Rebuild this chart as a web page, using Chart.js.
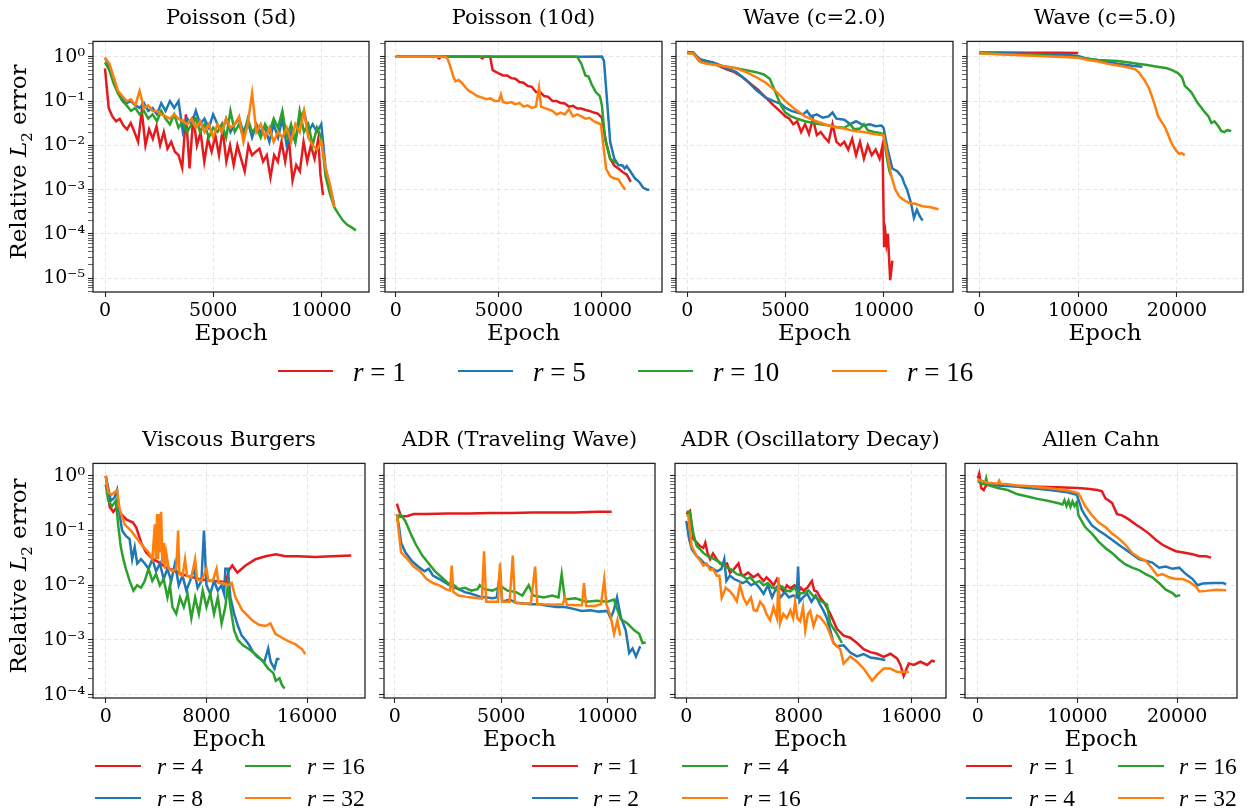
<!DOCTYPE html>
<html>
<head>
<meta charset="utf-8">
<script src="https://cdn.jsdelivr.net/npm/chart.js@4.4.1/dist/chart.umd.min.js"></script>
<style>
  body { margin: 0; background: #fff; width: 1248px; height: 809px; position: relative; overflow: hidden; font-family: 'DejaVu Serif', serif; color: #000; }
  canvas { position: absolute; }
  .txt { position: absolute; white-space: nowrap; transform: translate(-50%, -50%); line-height: 1; }
  .ylab { position: absolute; white-space: nowrap; transform: translate(-50%, -50%) rotate(-90deg); font-size: 23px; line-height: 1; }
  .ln { position: absolute; height: 2.6px; }
  .lt { position: absolute; white-space: nowrap; font-family: 'Liberation Serif', serif; transform: translateY(-50%); line-height: 1; }
</style>
</head>
<body>
<script>
// ---- data (epoch, relative L2 error) ----
const COLORS = ['#e41a1c', '#1f77b4', '#2ca02c', '#ff7f0e'];

const TOP_RANKS = [1, 5, 10, 16];
const BURGERS_RANKS = [4, 8, 16, 32];
const ADR_RANKS = [1, 2, 4, 16];
const ALLEN_RANKS = [1, 4, 16, 32];

const TOP_DECADES = [-5, -4, -3, -2, -1, 0];
const BOTTOM_DECADES = [-4, -3, -2, -1, 0];
const X_TICKS_5K = [0, 5000, 10000];
const X_TICKS_10K = [0, 10000, 20000];
const X_TICKS_8K = [0, 8000, 16000];

// Poisson (5d)
const P5D_R1 = [[0,0.55],[170,0.07],[340,0.045],[510,0.035],[680,0.04],[850,0.028],[1020,0.023],[1190,0.032],[1360,0.02],[1530,0.012],[1700,0.06],[1870,0.01],[2040,0.023],[2210,0.014],[2380,0.027],[2550,0.01],[2720,0.02],[2890,0.0084],[3060,0.012],[3230,0.0072],[3400,0.006],[3570,0.0031],[3740,0.05],[3910,0.003],[4080,0.045],[4250,0.01],[4420,0.02],[4590,0.0043],[4760,0.014],[4930,0.0072],[5100,0.017],[5270,0.006],[5440,0.023],[5610,0.0043],[5780,0.01],[5950,0.0036],[6120,0.01],[6290,0.005],[6460,0.0026],[6630,0.01],[6800,0.006],[6970,0.0072],[7140,0.0084],[7310,0.0043],[7480,0.006],[7650,0.0019],[7820,0.006],[7990,0.0043],[8160,0.012],[8330,0.0043],[8500,0.014],[8670,0.0016],[8840,0.0036],[9010,0.0026],[9180,0.012],[9350,0.0043],[9520,0.01],[9690,0.005],[9860,0.014],[9960,0.0022],[10080,0.00075]];
const P5D_R5 = [[0,0.95],[200,0.6],[400,0.3],[600,0.15],[800,0.11],[1000,0.09],[1200,0.1],[1400,0.08],[1600,0.07],[1800,0.09],[2000,0.06],[2200,0.07],[2400,0.05],[2600,0.09],[2800,0.06],[3000,0.1],[3200,0.07],[3400,0.1],[3600,0.02],[3800,0.04],[4000,0.03],[4200,0.06],[4400,0.03],[4600,0.04],[4800,0.025],[5000,0.05],[5200,0.03],[5400,0.02],[5600,0.04],[5800,0.02],[6000,0.03],[6200,0.04],[6400,0.02],[6600,0.035],[6800,0.015],[7000,0.03],[7200,0.02],[7400,0.025],[7600,0.012],[7800,0.03],[8000,0.015],[8200,0.04],[8400,0.01],[8600,0.02],[8800,0.012],[9000,0.04],[9200,0.06],[9400,0.02],[9600,0.03],[9800,0.02],[10000,0.03],[10200,0.003],[10400,0.0012],[10600,0.00045]];
const P5D_R10 = [[0,0.75],[200,0.5],[400,0.25],[600,0.15],[800,0.1],[1000,0.08],[1200,0.06],[1400,0.07],[1600,0.05],[1800,0.06],[2000,0.04],[2200,0.05],[2400,0.035],[2600,0.06],[2800,0.04],[3000,0.03],[3200,0.05],[3400,0.025],[3600,0.035],[3800,0.02],[4000,0.03],[4200,0.04],[4400,0.02],[4600,0.03],[4800,0.015],[5000,0.025],[5200,0.02],[5400,0.03],[5600,0.015],[5800,0.06],[6000,0.02],[6200,0.03],[6400,0.015],[6600,0.04],[6800,0.02],[7000,0.025],[7200,0.015],[7400,0.03],[7600,0.02],[7800,0.04],[8000,0.025],[8200,0.06],[8400,0.015],[8600,0.03],[8800,0.012],[9000,0.06],[9200,0.02],[9400,0.03],[9600,0.01],[9800,0.025],[10000,0.015],[10200,0.002],[10400,0.0008],[10600,0.0004],[10800,0.00028],[11000,0.0002],[11200,0.00016],[11400,0.00014],[11600,0.00012]];
const P5D_R16 = [[0,0.95],[200,0.7],[400,0.35],[600,0.17],[800,0.13],[1000,0.1],[1200,0.11],[1400,0.08],[1600,0.17],[1800,0.07],[2000,0.08],[2200,0.06],[2400,0.06],[2600,0.05],[2800,0.045],[3000,0.04],[3200,0.05],[3400,0.04],[3600,0.035],[3800,0.03],[4000,0.04],[4200,0.025],[4400,0.035],[4600,0.02],[4800,0.03],[5000,0.015],[5200,0.03],[5400,0.02],[5600,0.04],[5800,0.025],[6000,0.03],[6200,0.045],[6400,0.012],[6600,0.03],[6800,0.15],[7000,0.02],[7200,0.03],[7400,0.015],[7600,0.025],[7800,0.012],[8000,0.02],[8200,0.015],[8400,0.025],[8600,0.012],[8800,0.03],[9000,0.02],[9200,0.06],[9400,0.015],[9600,0.01],[9800,0.008],[10000,0.012],[10200,0.003],[10400,0.0013],[10600,0.0004]];

// Poisson (10d)
const P10D_R1 = [[0,1],[2000,1],[2100,0.92],[2200,1],[4100,1],[4200,0.92],[4300,1],[4580,1],[4700,0.5],[5000,0.42],[5200,0.38],[5400,0.38],[5600,0.33],[5800,0.32],[6000,0.27],[6200,0.26],[6400,0.22],[6600,0.21],[6800,0.16],[7000,0.16],[7200,0.13],[7400,0.125],[7600,0.1],[7800,0.1],[8000,0.09],[8200,0.088],[8400,0.075],[8600,0.078],[8800,0.068],[9000,0.068],[9200,0.063],[9400,0.06],[9600,0.055],[9800,0.052],[10000,0.042],[10200,0.012],[10400,0.005],[10600,0.0035],[10800,0.003],[11000,0.0025],[11200,0.0022],[11400,0.0015]];
const P10D_R5 = [[0,1],[3000,1],[6000,1],[9000,1],[10000,1.02],[10100,0.8],[10200,0.2],[10300,0.05],[10400,0.012],[10600,0.005],[10800,0.0036],[11000,0.0035],[11100,0.003],[11200,0.0034],[11400,0.0025],[11600,0.0018],[11800,0.0015],[12000,0.0011],[12200,0.001],[12300,0.001]];
const P10D_R10 = [[0,1],[4000,1],[8800,1],[9000,0.7],[9200,0.38],[9350,0.36],[9500,0.24],[9700,0.16],[9900,0.13],[10000,0.08],[10150,0.014],[10400,0.005],[10700,0.004]];
const P10D_R16 = [[0,1],[2300,1],[2500,0.95],[2650,0.6],[2800,0.35],[2900,0.28],[3050,0.3],[3200,0.26],[3400,0.2],[3550,0.17],[3750,0.15],[3950,0.13],[4200,0.12],[4400,0.11],[4600,0.115],[4800,0.1],[5000,0.1],[5100,0.14],[5200,0.095],[5400,0.09],[5600,0.095],[5800,0.085],[6000,0.09],[6200,0.075],[6400,0.08],[6600,0.07],[6800,0.075],[6950,0.2],[7050,0.075],[7200,0.07],[7400,0.065],[7600,0.06],[7800,0.05],[8000,0.055],[8200,0.05],[8400,0.065],[8600,0.045],[8800,0.05],[9000,0.045],[9200,0.04],[9400,0.042],[9600,0.035],[9800,0.032],[9950,0.03],[10050,0.012],[10200,0.003],[10400,0.002],[10600,0.0018],[10800,0.0017],[11000,0.0012],[11130,0.001]];

// Wave (c=2.0)
const W2_R1 = [[0,1.25],[300,1.25],[500,1.0],[700,0.85],[1000,0.8],[1300,0.75],[1600,0.62],[2000,0.52],[2400,0.45],[2800,0.35],[3200,0.25],[3600,0.18],[4000,0.12],[4400,0.08],[4800,0.055],[5000,0.045],[5200,0.04],[5400,0.03],[5600,0.035],[5800,0.02],[6000,0.03],[6200,0.018],[6400,0.04],[6600,0.017],[6800,0.02],[7000,0.015],[7200,0.012],[7400,0.03],[7600,0.012],[7800,0.01],[8000,0.012],[8200,0.008],[8400,0.014],[8600,0.006],[8800,0.012],[9000,0.005],[9200,0.01],[9400,0.006],[9600,0.008],[9800,0.005],[9950,0.01],[10030,0.00005],[10100,0.0001],[10150,0.00006],[10220,0.0001],[10340,0.000009],[10450,0.000025]];
const W2_R5 = [[0,1.25],[300,1.25],[600,0.9],[1000,0.8],[1500,0.7],[2000,0.55],[2500,0.45],[3000,0.3],[3500,0.18],[4000,0.12],[4400,0.1],[4800,0.085],[5000,0.07],[5300,0.06],[5600,0.055],[5900,0.05],[6100,0.06],[6300,0.045],[6600,0.05],[6900,0.042],[7200,0.045],[7400,0.055],[7600,0.04],[8000,0.038],[8300,0.03],[8600,0.035],[9000,0.028],[9300,0.03],[9600,0.027],[9900,0.028],[10000,0.025],[10200,0.0085],[10450,0.003],[10700,0.0026],[10950,0.0019],[11050,0.0014],[11200,0.001],[11400,0.0005],[11550,0.00023],[11700,0.00035],[11850,0.00025],[11990,0.0002]];
const W2_R10 = [[0,1.2],[300,1.2],[600,0.8],[1000,0.72],[1500,0.65],[2000,0.6],[2500,0.55],[3000,0.5],[3500,0.45],[3900,0.4],[4200,0.32],[4400,0.2],[4600,0.12],[4800,0.075],[5000,0.055],[5300,0.045],[5600,0.04],[6000,0.035],[6400,0.032],[6800,0.03],[7200,0.028],[7600,0.026],[8000,0.025],[8300,0.03],[8500,0.023],[8800,0.024],[9000,0.03],[9200,0.022],[9500,0.02],[9800,0.019],[10000,0.018],[10100,0.008],[10200,0.0045],[10300,0.0026],[10400,0.002]];
const W2_R16 = [[0,1.2],[300,1.2],[700,0.75],[1000,0.7],[1500,0.65],[2000,0.6],[2500,0.55],[3000,0.45],[3500,0.35],[4000,0.26],[4500,0.17],[5000,0.1],[5500,0.065],[6000,0.045],[6500,0.036],[7000,0.03],[7500,0.026],[8000,0.024],[8500,0.021],[9000,0.02],[9500,0.018],[10000,0.017],[10200,0.006],[10400,0.002],[10600,0.001],[10800,0.0007],[11000,0.0006],[11300,0.0005],[11600,0.00048],[12000,0.00042],[12400,0.0004],[12800,0.00036]];

// Wave (c=5.0)
const W5_R1 = [[0,1.25],[2000,1.25],[5000,1.24],[8000,1.23],[10000,1.22]];
const W5_R5 = [[0,1.22],[3000,1.2],[6000,1.15],[9000,1.1],[10000,1.05],[11000,0.9],[12500,0.8],[14000,0.7],[15500,0.63],[16500,0.6]];
const W5_R10 = [[0,1.2],[3000,1.15],[6000,1.08],[9000,1.0],[10000,0.97],[11000,0.9],[12000,0.85],[14000,0.8],[15000,0.75],[16000,0.7],[17000,0.65],[18000,0.6],[19000,0.55],[19500,0.5],[20100,0.43],[20500,0.35],[20800,0.22],[21450,0.16],[22100,0.09],[22500,0.07],[22800,0.057],[23200,0.045],[23500,0.032],[23800,0.035],[24200,0.027],[24500,0.021],[24800,0.02],[25100,0.022],[25500,0.021]];
const W5_R16 = [[0,1.2],[3000,1.12],[6000,1.05],[9000,0.98],[10000,0.95],[11000,0.85],[12000,0.78],[13000,0.7],[14000,0.64],[15000,0.58],[15800,0.52],[16200,0.43],[16700,0.3],[17200,0.19],[17700,0.09],[18100,0.045],[18400,0.035],[18750,0.027],[19000,0.02],[19400,0.012],[19700,0.009],[19900,0.0078],[20200,0.0065],[20500,0.0066],[20800,0.006]];

// Viscous Burgers
const VB_R4 = [[0,1.0],[150,0.6],[320,0.27],[600,0.22],[840,0.26],[1240,0.2],[1630,0.16],[2160,0.14],[2420,0.115],[2820,0.06],[3200,0.04],[3740,0.03],[4260,0.026],[4790,0.021],[5300,0.019],[6370,0.015],[7420,0.013],[8470,0.012],[9530,0.0115],[9790,0.019],[10050,0.023],[10450,0.017],[11100,0.023],[11900,0.03],[12700,0.034],[13500,0.037],[14260,0.034],[15300,0.034],[16630,0.033],[17950,0.034],[19500,0.035]];
const VB_R8 = [[0,1.0],[200,0.6],[400,0.35],[700,0.4],[900,0.55],[1100,0.2],[1300,0.1],[1600,0.08],[1900,0.07],[2100,0.03],[2300,0.05],[2500,0.025],[2800,0.03],[3100,0.025],[3400,0.02],[3700,0.03],[4000,0.018],[4300,0.025],[4600,0.013],[4900,0.02],[5200,0.012],[5500,0.025],[5800,0.01],[6100,0.015],[6400,0.008],[6700,0.012],[7000,0.02],[7300,0.009],[7600,0.012],[7800,0.1],[8000,0.01],[8300,0.007],[8600,0.012],[8900,0.008],[9200,0.01],[9400,0.007],[9500,0.02],[9700,0.02],[9900,0.006],[10200,0.003],[10500,0.0018],[10800,0.0012],[11100,0.001],[11400,0.0008],[11700,0.0006],[12000,0.0005],[12300,0.00045],[12600,0.0004],[12900,0.0007],[13100,0.0004],[13400,0.0003],[13600,0.00045],[13800,0.00045]];
const VB_R16 = [[0,0.7],[200,0.35],[500,0.28],[800,0.35],[1000,0.12],[1200,0.05],[1400,0.03],[1600,0.02],[1900,0.012],[2200,0.008],[2500,0.01],[2800,0.009],[3100,0.012],[3400,0.02],[3700,0.012],[4000,0.016],[4300,0.01],[4600,0.013],[4900,0.006],[5100,0.01],[5300,0.004],[5600,0.003],[5900,0.006],[6200,0.004],[6500,0.007],[6800,0.0025],[7100,0.006],[7400,0.003],[7700,0.008],[8000,0.004],[8300,0.007],[8600,0.003],[8900,0.006],[9200,0.002],[9500,0.004],[9700,0.01],[9900,0.004],[10200,0.0015],[10500,0.001],[10900,0.0008],[11300,0.0007],[11700,0.0006],[12100,0.0005],[12500,0.0004],[12900,0.0003],[13300,0.00025],[13500,0.00018],[13800,0.0002],[14000,0.00015],[14200,0.00013]];
const VB_R32 = [[0,1.0],[200,0.5],[450,0.45],[700,0.5],[900,0.55],[1100,0.25],[1500,0.13],[2000,0.1],[2500,0.07],[3000,0.05],[3400,0.04],[3700,0.03],[3900,0.13],[3980,0.03],[4080,0.2],[4150,0.03],[4250,0.2],[4330,0.04],[4400,0.22],[4500,0.025],[4600,0.06],[4700,0.02],[4800,0.04],[5000,0.02],[5300,0.018],[5600,0.02],[5750,0.1],[5850,0.016],[6100,0.015],[6300,0.03],[6450,0.015],[6800,0.014],[7100,0.03],[7250,0.013],[7600,0.012],[8000,0.02],[8150,0.012],[8500,0.012],[8800,0.02],[8950,0.011],[9300,0.011],[9700,0.01],[10000,0.011],[10300,0.006],[10840,0.0035],[11630,0.0023],[12160,0.0019],[12680,0.0018],[13080,0.002],[13470,0.0013],[14000,0.0011],[14530,0.00094],[15050,0.00084],[15580,0.00068],[15840,0.00055]];

// ADR (Traveling Wave)
const ADRTW_R1 = [[100,0.31],[300,0.18],[600,0.185],[900,0.2],[1500,0.2],[2500,0.205],[3500,0.205],[4500,0.21],[5500,0.21],[6500,0.215],[7500,0.215],[8500,0.215],[9500,0.22],[10200,0.22]];
const ADRTW_R2 = [[100,0.2],[200,0.12],[300,0.06],[500,0.04],[800,0.028],[1100,0.022],[1400,0.018],[1600,0.02],[1800,0.015],[2100,0.013],[2400,0.011],[2700,0.0095],[3000,0.0085],[3300,0.0075],[3600,0.007],[4000,0.0062],[4300,0.006],[4600,0.0058],[4800,0.006],[4950,0.017],[5050,0.005],[5400,0.0055],[5700,0.0048],[6000,0.0047],[6400,0.0045],[6800,0.0045],[7200,0.0042],[7600,0.004],[8000,0.004],[8400,0.0037],[8800,0.0034],[9200,0.0035],[9600,0.0033],[10000,0.0034],[10150,0.0025],[10300,0.0035],[10450,0.006],[10630,0.0026],[10860,0.0015],[11020,0.00058],[11180,0.0007],[11340,0.0005],[11540,0.00077]];
const ADRTW_R4 = [[100,0.15],[250,0.2],[500,0.15],[800,0.08],[1000,0.055],[1300,0.035],[1600,0.025],[1900,0.018],[2200,0.014],[2500,0.011],[2800,0.01],[3000,0.0085],[3300,0.009],[3600,0.008],[3900,0.0085],[4000,0.01],[4200,0.0085],[4600,0.008],[5000,0.0095],[5300,0.008],[5700,0.0075],[6000,0.0065],[6300,0.01],[6500,0.0065],[7000,0.006],[7400,0.0065],[7700,0.006],[7850,0.016],[8000,0.0055],[8500,0.0058],[9000,0.005],[9500,0.0052],[10000,0.005],[10300,0.0055],[10630,0.0024],[10940,0.002],[11260,0.0015],[11490,0.0013],[11650,0.00088],[11800,0.0009]];
const ADRTW_R16 = [[100,0.2],[200,0.09],[300,0.04],[600,0.03],[900,0.022],[1200,0.018],[1500,0.013],[1800,0.011],[2100,0.01],[2400,0.0085],[2600,0.008],[2680,0.023],[2760,0.0075],[3000,0.0065],[3300,0.0062],[3600,0.006],[3900,0.0058],[4100,0.0057],[4200,0.042],[4300,0.005],[4600,0.005],[4850,0.005],[4950,0.025],[5050,0.005],[5400,0.005],[5550,0.035],[5650,0.0048],[6000,0.0046],[6400,0.0047],[6600,0.022],[6700,0.0046],[7000,0.0045],[7500,0.0044],[7900,0.0045],[8000,0.006],[8100,0.0044],[8500,0.0043],[8800,0.0043],[8900,0.011],[9000,0.0042],[9400,0.0042],[9700,0.0045],[9850,0.013],[9950,0.0045],[10160,0.0026],[10310,0.0013],[10470,0.0023],[10600,0.0012]];

// ADR (Oscillatory Decay)
const ADROD_R1 = [[0,0.2],[260,0.23],[500,0.07],[750,0.06],[970,0.052],[1210,0.048],[1350,0.06],[1500,0.04],[1690,0.03],[1900,0.038],[2160,0.03],[2400,0.025],[2640,0.023],[2900,0.025],[3110,0.017],[3400,0.02],[3710,0.025],[3900,0.016],[4060,0.015],[4400,0.017],[4770,0.014],[5100,0.016],[5490,0.012],[5700,0.014],[5960,0.012],[6200,0.01],[6440,0.013],[6700,0.009],[6910,0.0077],[7150,0.01],[7390,0.0088],[7700,0.01],[7980,0.0077],[8150,0.009],[8340,0.008],[8600,0.009],[8930,0.012],[9100,0.008],[9290,0.0077],[9500,0.006],[9760,0.005],[10000,0.0039],[10240,0.003],[10710,0.0016],[11190,0.0012],[11660,0.0011],[12140,0.00088],[12610,0.00068],[13090,0.0006],[13560,0.00056],[14040,0.00049],[14510,0.00056],[14990,0.00046],[15230,0.00035],[15460,0.00022],[15820,0.00037],[16180,0.00035],[16650,0.0004],[17130,0.00035],[17480,0.00042],[17670,0.0004]];
const ADROD_R2 = [[0,0.15],[200,0.07],[400,0.045],[700,0.035],[1000,0.03],[1300,0.025],[1600,0.022],[1900,0.02],[2200,0.018],[2500,0.02],[2700,0.03],[2850,0.012],[3100,0.015],[3400,0.013],[3700,0.012],[4000,0.011],[4300,0.012],[4600,0.01],[4900,0.011],[5200,0.009],[5500,0.007],[5800,0.01],[6100,0.006],[6400,0.009],[6700,0.006],[7000,0.0075],[7300,0.006],[7600,0.0065],[7850,0.006],[7950,0.022],[8050,0.005],[8300,0.006],[8600,0.007],[8900,0.005],[9200,0.0065],[9500,0.0045],[9760,0.0034],[10000,0.0025],[10240,0.0015],[10470,0.00088],[10710,0.00077],[11190,0.0008],[11660,0.00059],[12140,0.0005],[12610,0.00055],[13090,0.00048],[13560,0.00046],[14150,0.00043]];
const ADROD_R4 = [[0,0.22],[250,0.22],[350,0.15],[500,0.088],[740,0.052],[1000,0.045],[1210,0.039],[1600,0.033],[2000,0.03],[2400,0.026],[2750,0.022],[3110,0.02],[3350,0.018],[3590,0.016],[4000,0.015],[4300,0.013],[4540,0.014],[4900,0.011],[5200,0.012],[5490,0.01],[5800,0.011],[6100,0.009],[6440,0.0088],[6800,0.0095],[7100,0.008],[7390,0.0077],[7700,0.009],[8000,0.007],[8340,0.0072],[8700,0.008],[9050,0.0063],[9400,0.0055],[9760,0.0048],[10000,0.0045],[10240,0.002],[10710,0.0013],[11070,0.00088]];
const ADROD_R16 = [[0,0.19],[140,0.19],[380,0.052],[740,0.034],[1000,0.028],[1210,0.023],[1450,0.025],[1690,0.019],[1900,0.02],[2160,0.015],[2350,0.015],[2520,0.0059],[2800,0.009],[3110,0.0077],[3350,0.0065],[3590,0.0051],[3820,0.01],[4050,0.006],[4300,0.0045],[4600,0.006],[4800,0.0035],[5010,0.0034],[5250,0.005],[5490,0.0042],[5700,0.003],[5960,0.0023],[6200,0.004],[6450,0.0025],[6560,0.014],[6670,0.002],[6900,0.003],[7150,0.0025],[7400,0.0035],[7600,0.0025],[7740,0.0051],[7900,0.0025],[8100,0.0022],[8300,0.004],[8460,0.0015],[8650,0.003],[8810,0.0034],[9050,0.0018],[9300,0.0028],[9520,0.0026],[9750,0.0022],[10000,0.0018],[10470,0.00088],[10950,0.00068],[11190,0.00037],[11660,0.0005],[12140,0.0004],[12610,0.0003],[13090,0.0002],[13210,0.00018],[13560,0.00023],[14040,0.0003],[14510,0.0003],[14990,0.00026],[15460,0.00026],[15820,0.00026]];

// Allen Cahn
const AC_R1 = [[0,0.9],[150,1.1],[350,0.6],[600,0.55],[800,0.65],[1000,0.72],[2000,0.68],[4000,0.65],[6000,0.63],[8000,0.62],[10000,0.6],[11000,0.58],[12000,0.55],[12460,0.52],[12800,0.39],[13470,0.32],[13970,0.2],[14480,0.19],[15150,0.16],[15820,0.13],[16500,0.108],[17170,0.088],[17850,0.068],[18520,0.055],[19190,0.048],[19870,0.042],[20880,0.039],[21550,0.037],[22220,0.034],[22900,0.034],[23400,0.032]];
const AC_R4 = [[0,0.85],[500,0.8],[1000,0.7],[2000,0.67],[3000,0.65],[4000,0.63],[5000,0.6],[6000,0.58],[7000,0.56],[8000,0.53],[9000,0.5],[9930,0.45],[10440,0.24],[10770,0.19],[11450,0.124],[12120,0.1],[12800,0.083],[13470,0.068],[14140,0.055],[14810,0.045],[15490,0.037],[16160,0.03],[16840,0.028],[17510,0.026],[18180,0.021],[18860,0.022],[19530,0.02],[20200,0.021],[20880,0.016],[21550,0.013],[22050,0.01],[22560,0.0108],[23570,0.011],[24580,0.011],[24920,0.0105]];
const AC_R16 = [[0,0.8],[400,0.72],[700,0.7],[850,0.9],[1000,0.68],[2000,0.6],[3000,0.55],[4000,0.46],[5000,0.42],[6000,0.38],[7000,0.35],[8000,0.32],[8500,0.3],[8700,0.36],[8900,0.28],[9100,0.35],[9300,0.27],[9500,0.34],[9700,0.28],[9930,0.33],[10100,0.19],[10770,0.116],[11450,0.088],[12120,0.063],[12800,0.048],[13470,0.039],[14140,0.03],[14810,0.024],[15490,0.021],[16160,0.019],[16840,0.016],[17510,0.014],[18180,0.011],[18860,0.0083],[19530,0.0072],[19870,0.0063],[20300,0.0066]];
const AC_R32 = [[0,0.85],[500,0.8],[1000,0.75],[2000,0.72],[2150,0.82],[2300,0.72],[3000,0.7],[4000,0.67],[5000,0.65],[6000,0.62],[7000,0.6],[8000,0.57],[9000,0.54],[9800,0.5],[10100,0.48],[10440,0.37],[10770,0.28],[11450,0.19],[12120,0.14],[12800,0.116],[13470,0.088],[14140,0.072],[14810,0.055],[15490,0.039],[16160,0.032],[16840,0.028],[17510,0.02],[18020,0.015],[18520,0.016],[19190,0.014],[19870,0.013],[20540,0.013],[21210,0.0116],[21890,0.0094],[22220,0.0077],[22900,0.0079],[23910,0.0083],[24920,0.0081]];

// ---- layout ----
const TOP_Y = [4.87e-6, 2.23];
const BOTTOM_Y = [8.7e-5, 1.69];

const panels = [
  { title: 'Poisson (5d)', box: [93, 32, 369, 292], xRange: [-555, 12206], xTicks: X_TICKS_5K, yRange: TOP_Y, decades: TOP_DECADES, yLabels: true, series: [P5D_R1, P5D_R5, P5D_R10, P5D_R16], ranks: TOP_RANKS },
  { title: 'Poisson (10d)', box: [385, 32, 662, 292], xRange: [-519, 12913], xTicks: X_TICKS_5K, yRange: TOP_Y, decades: TOP_DECADES, yLabels: false, series: [P10D_R1, P10D_R5, P10D_R10, P10D_R16], ranks: TOP_RANKS },
  { title: 'Wave (c=2.0)', box: [676, 32, 953, 292], xRange: [-577, 13541], xTicks: X_TICKS_5K, yRange: TOP_Y, decades: TOP_DECADES, yLabels: false, series: [W2_R1, W2_R5, W2_R10, W2_R16], ranks: TOP_RANKS },
  { title: 'Wave (c=5.0)', box: [967, 32, 1243, 292], xRange: [-1257, 26690], xTicks: X_TICKS_10K, yRange: TOP_Y, decades: TOP_DECADES, yLabels: false, series: [W5_R1, W5_R5, W5_R10, W5_R16], ranks: TOP_RANKS },
  { title: 'Viscous Burgers', box: [93, 454, 365, 698], xRange: [-1010, 20588], xTicks: X_TICKS_8K, yRange: BOTTOM_Y, decades: BOTTOM_DECADES, yLabels: true, series: [VB_R4, VB_R8, VB_R16, VB_R32], ranks: BURGERS_RANKS },
  { title: 'ADR (Traveling Wave)', box: [384, 454, 655, 698], xRange: [-502, 12235], xTicks: X_TICKS_5K, yRange: BOTTOM_Y, decades: BOTTOM_DECADES, yLabels: false, series: [ADRTW_R1, ADRTW_R2, ADRTW_R4, ADRTW_R16], ranks: ADR_RANKS },
  { title: 'ADR (Oscillatory Decay)', box: [675, 454, 946, 698], xRange: [-804, 18470], xTicks: X_TICKS_8K, yRange: BOTTOM_Y, decades: BOTTOM_DECADES, yLabels: false, series: [ADROD_R1, ADROD_R2, ADROD_R4, ADROD_R16], ranks: ADR_RANKS },
  { title: 'Allen Cahn', box: [965, 454, 1237, 698], xRange: [-1276, 26000], xTicks: X_TICKS_10K, yRange: BOTTOM_Y, decades: BOTTOM_DECADES, yLabels: false, series: [AC_R1, AC_R4, AC_R16, AC_R32], ranks: ALLEN_RANKS },
];

const PAD = 5;        // room around the plot box so edge lines are not clipped
const X_AXIS_H = 34;  // tick marks + tick labels
const SUP = { '0': '⁰', '1': '¹', '2': '²', '3': '³', '4': '⁴', '5': '⁵', '6': '⁶', '-': '⁻' };

function sup(n) {
  return String(n).split('').map(c => SUP[c]).join('');
}

// Draw the full black frame round the plot area (matplotlib style)
const framePlugin = {
  id: 'frame',
  afterDatasetsDraw(chart) {
    const { ctx, chartArea: a } = chart;
    ctx.save();
    ctx.strokeStyle = '#222';
    ctx.lineWidth = 1.3;
    ctx.strokeRect(a.left, a.top, a.right - a.left, a.bottom - a.top);
    ctx.restore();
  }
};

function addText(html, x, y, size, cls) {
  const d = document.createElement('div');
  d.className = cls || 'txt';
  d.style.left = x + 'px';
  d.style.top = y + 'px';
  if (size) d.style.fontSize = size + 'px';
  d.innerHTML = html;
  document.body.appendChild(d);
}

function makePanel(p) {
  const [l, t, r, b] = p.box;
  const yAxisW = p.yLabels ? l : 8;
  const canvas = document.createElement('canvas');
  canvas.width = (r - l) + yAxisW + PAD;
  canvas.height = (b - t) + PAD + X_AXIS_H;
  canvas.style.left = (l - yAxisW) + 'px';
  canvas.style.top = (t - PAD) + 'px';
  document.body.appendChild(canvas);

  const majorSet = p.decades.map(e => Math.pow(10, e));
  const gridColor = 'rgba(0,0,0,0.13)';

  new Chart(canvas, {
    type: 'line',
    data: {
      datasets: p.series.map((s, i) => ({
        label: 'r = ' + p.ranks[i],
        data: s,
        borderColor: COLORS[i],
        borderWidth: 2.5,
        pointRadius: 0,
        tension: 0,
        fill: false,
        order: 3 - i,
      }))
    },
    options: {
      responsive: false,
      animation: false,
      layout: { padding: { top: PAD, right: PAD, left: 0, bottom: 0 } },
      plugins: { legend: { display: false }, tooltip: { enabled: false } },
      scales: {
        x: {
          type: 'linear',
          min: p.xRange[0],
          max: p.xRange[1],
          afterBuildTicks: (scale) => { scale.ticks = p.xTicks.map(v => ({ value: v })); },
          afterFit: (scale) => { scale.height = X_AXIS_H; },
          ticks: {
            autoSkip: false, maxRotation: 0, minRotation: 0, padding: 3,
            color: '#000',
            font: { family: 'DejaVu Serif', size: 19 },
            callback: (v) => String(v),
          },
          grid: {
            color: gridColor, lineWidth: 0.8, tickLength: 5,
            tickColor: '#222', tickWidth: 1.1, tickBorderDash: [],
          },
          border: { display: false, dash: [4, 3] },
        },
        y: {
          type: 'logarithmic',
          min: p.yRange[0],
          max: p.yRange[1],
          afterBuildTicks: (scale) => {
            // major tick at each decade, minor ticks at 2..9 times the decade
            const ticks = [];
            const first = p.decades[0] - 1;
            const last = p.decades[p.decades.length - 1] + 1;
            for (let e = first; e <= last; e++) {
              for (let m = 1; m <= 9; m++) {
                const v = m * Math.pow(10, e);
                if (v >= scale.min && v <= scale.max) ticks.push({ value: v, major: m === 1 });
              }
            }
            scale.ticks = ticks;
          },
          afterFit: (scale) => { scale.width = yAxisW; },
          ticks: {
            autoSkip: false, padding: 3,
            color: '#000',
            font: { family: 'DejaVu Serif', size: 19 },
            callback: (v, i, ticks) => {
              if (!p.yLabels || !ticks[i].major) return '';
              return '10' + sup(Math.round(Math.log10(v)));
            },
          },
          grid: {
            color: (ctx) => (ctx.tick && majorSet.some(m => Math.abs(m - ctx.tick.value) / m < 1e-6)) ? gridColor : 'rgba(0,0,0,0)',
            lineWidth: 0.8, tickLength: 5,
            tickColor: '#222',
            tickWidth: (ctx) => (ctx.tick && ctx.tick.major) ? 1.1 : 0.7,
            tickBorderDash: [],
          },
          border: { display: false, dash: [4, 3] },
        },
      },
    },
    plugins: [framePlugin],
  });

  const cx = (l + r) / 2;
  addText(p.title, cx, t - 15, 21);
  addText('Epoch', cx, b + 40, 23);
}

panels.forEach(makePanel);

// y-axis labels
addText('Relative <i>L</i><sub style="font-size:15px">2</sub> error', 21, 162, null, 'ylab');
addText('Relative <i>L</i><sub style="font-size:15px">2</sub> error', 21, 576, null, 'ylab');

function addLegendItem(ci, rank, lx, tx, y, len, size) {
  const ln = document.createElement('div');
  ln.className = 'ln';
  ln.style.left = lx + 'px';
  ln.style.top = (y - 1.3) + 'px';
  ln.style.width = len + 'px';
  ln.style.background = COLORS[ci];
  document.body.appendChild(ln);
  const label = document.createElement('div');
  label.className = 'lt';
  label.style.left = tx + 'px';
  label.style.top = (y + 1) + 'px';
  label.style.fontSize = size + 'px';
  label.innerHTML = '<i>r</i> = ' + rank;
  document.body.appendChild(label);
}

// shared legend under the top row
const topLineX = [278, 458, 638, 832];
const topTextX = [353, 533, 713, 907];
TOP_RANKS.forEach((rk, i) => addLegendItem(i, rk, topLineX[i], topTextX[i], 371, 55, 27));

// two-column legends under the bottom row (filled column-wise)
const ROWS = [766, 798];
function addGrid(ranks, col1, col2) {
  [[0, col1, 0], [1, col1, 1], [2, col2, 0], [3, col2, 1]].forEach(([i, col, row]) => {
    addLegendItem(i, ranks[i], col[0], col[1], ROWS[row], 46, 23.5);
  });
}
addGrid(BURGERS_RANKS, [95, 157], [245, 307]);
addGrid(ADR_RANKS, [532, 593], [682, 743]);
addGrid(ALLEN_RANKS, [966, 1029], [1118, 1179]);
</script>
</body>
</html>
